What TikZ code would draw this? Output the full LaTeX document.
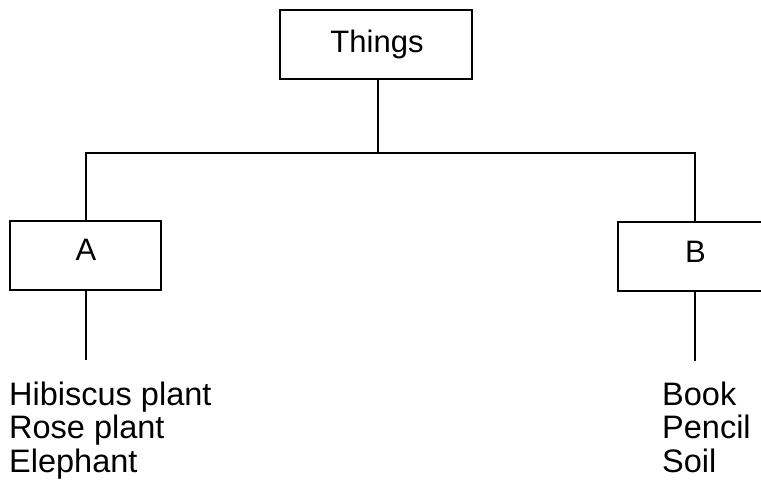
\documentclass[tikz,border=0pt]{standalone}
\usepackage{fontspec}
\setmainfont{Liberation Sans}
\begin{document}
\begin{tikzpicture}[x=1pt,y=-1pt,
  box/.style={draw,line width=1.8pt,inner sep=0pt},
  conn/.style={line width=1.8pt},
  lbl/.style={font=\fontsize{31}{33}\selectfont,inner sep=0pt,anchor=base},
  item/.style={font=\fontsize{32.5}{34}\selectfont,inner sep=0pt,anchor=base west}]
\useasboundingbox (0,0) rectangle (761,482);
\clip (0,0) rectangle (761,482);
\node[box,minimum width=192pt,minimum height=69pt] (T) at (376,44.5) {};
\node[lbl] (Tt) at (377,52) {Things};
\node[box,minimum width=151pt,minimum height=69pt] (A) at (85.5,255.5) {};
\node[lbl] (At) at (86,260) {A};
\node[box,minimum width=152pt,minimum height=69pt] (B) at (694,256.5) {};
\node[lbl] (Bt) at (695.5,262) {B};
\coordinate (J) at (378,153);
\coordinate (JA) at (86,153);
\coordinate (JB) at (695,153);
\draw[conn] (T.south -| J) -- (J);
\draw[conn] (A.north -| JA) |- (JB) -- (B.north -| JB);
\coordinate (EA) at (86,360);
\coordinate (EB) at (695,361);
\draw[conn] (A.south -| EA) -- (EA);
\draw[conn] (B.south -| EB) -- (EB);
\node[item] (a1) at (9,405) {Hibiscus plant};
\node[item] (a2) at (9,438.5) {Rose plant};
\node[item] (a3) at (9,472) {Elephant};
\node[item] (b1) at (662,405) {Book};
\node[item] (b2) at (662,438.5) {Pencil};
\node[item] (b3) at (662,472) {Soil};
\end{tikzpicture}
\end{document}
